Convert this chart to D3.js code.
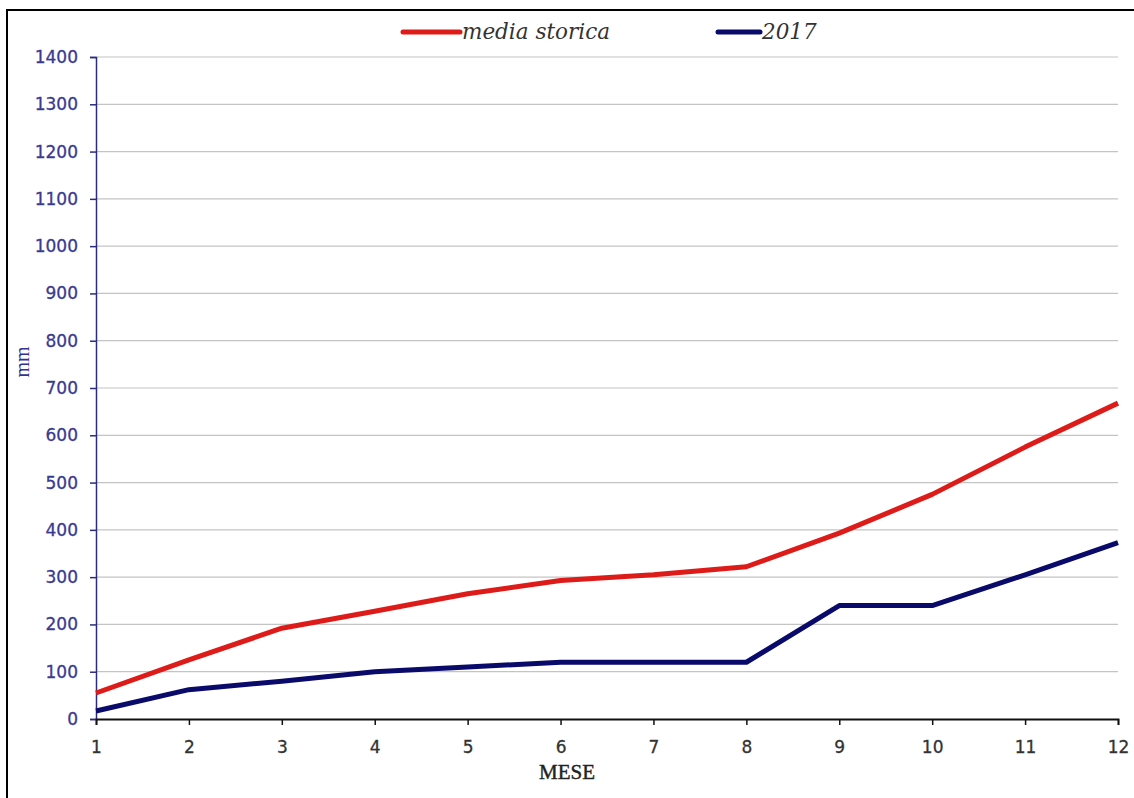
<!DOCTYPE html>
<html>
<head>
<meta charset="utf-8">
<script src="https://cdn.jsdelivr.net/npm/d3@7"></script>
<style>
  html, body { margin: 0; padding: 0; background: #ffffff; }
  svg { display: block; }
</style>
</head>
<body>
<svg id="chart" width="1134" height="798"></svg>
<script>
const months = [1, 2, 3, 4, 5, 6, 7, 8, 9, 10, 11, 12];
const mediaStorica = [55, 125, 192, 228, 265, 293, 305, 322, 393, 475, 575, 668];
const anno2017 = [17, 62, 80, 100, 110, 120, 120, 120, 240, 240, 305, 373];
const yTicks = [0, 100, 200, 300, 400, 500, 600, 700, 800, 900, 1000, 1100, 1200, 1300, 1400];
const seriesNames = ["media storica", "2017"];
const seriesColors = ["#dd1c1a", "#0a0a6b"];

const svg = d3.select("#chart");
const W = 1134, H = 798;
const m = { left: 96, right: 1118, top: 57, bottom: 719 };

// outer frame
svg.append("rect").attr("x", 7).attr("y", 10).attr("width", W).attr("height", H)
  .attr("fill", "none").attr("stroke", "#000").attr("stroke-width", 2);

const x = d3.scaleLinear().domain([1, 12]).range([m.left, m.right]);
const y = d3.scaleLinear().domain([0, 1400]).range([m.bottom, m.top]);

// gridlines
svg.append("g").selectAll("line").data(yTicks.filter(d => d > 0)).join("line")
  .attr("x1", m.left).attr("x2", m.right)
  .attr("y1", d => y(d)).attr("y2", d => y(d))
  .attr("stroke", "#c4c4c4").attr("stroke-width", 1.2);

// y axis
const yAxis = d3.axisLeft(y).tickValues(yTicks).tickSize(6).tickPadding(12).tickFormat(d3.format("d"));
const gy = svg.append("g").attr("transform", `translate(${m.left},0)`).call(yAxis);
gy.attr("font-size", null).attr("font-family", null);
gy.select(".domain").attr("stroke", "#2b2b80").attr("stroke-width", 1.5);
gy.selectAll(".tick line").attr("stroke", "#2b2b80").attr("stroke-width", 1.5);
gy.selectAll(".tick text").attr("fill", "#3a3a92")
  .attr("stroke", "#3a3a92").attr("stroke-width", 0.3)
  .style("font-family", "'DejaVu Sans', Verdana, sans-serif").style("font-size", "17px");

// x axis
const xAxis = d3.axisBottom(x).tickValues(months).tickSize(6).tickPadding(16).tickFormat(d3.format("d"));
const gx = svg.append("g").attr("transform", `translate(0,${m.bottom})`).call(xAxis);
gx.attr("font-size", null).attr("font-family", null);
gx.select(".domain").attr("stroke", "#111").attr("stroke-width", 1.8);
gx.selectAll(".tick line").attr("stroke", "#111").attr("stroke-width", 1.5);
gx.selectAll(".tick text").attr("fill", "#333")
  .attr("stroke", "#333").attr("stroke-width", 0.3)
  .style("font-family", "'DejaVu Sans', Verdana, sans-serif").style("font-size", "17px");

// axis titles
svg.append("text").attr("x", 567).attr("y", 779)
  .attr("text-anchor", "middle").attr("fill", "#222")
  .attr("stroke", "#222").attr("stroke-width", 0.4)
  .style("font-family", "'Liberation Serif', serif").style("font-size", "21px")
  .text("MESE");
svg.append("text").attr("transform", "translate(29,362) rotate(-90)")
  .attr("text-anchor", "middle").attr("fill", "#33338f")
  .style("font-family", "'Liberation Serif', serif").style("font-size", "20px")
  .text("mm");

// lines
const line = d3.line().x((d, i) => x(months[i])).y(d => y(d));
[mediaStorica, anno2017].forEach((s, k) => {
  svg.append("path").datum(s).attr("d", line)
    .attr("fill", "none").attr("stroke", seriesColors[k])
    .attr("stroke-width", 5).attr("stroke-linejoin", "round");
});

// legend
const legendX = [403, 718];
const legendLen = [57, 42];
seriesNames.forEach((name, k) => {
  const g = svg.append("g").attr("transform", `translate(${legendX[k]},32)`);
  g.append("line").attr("x1", 0).attr("x2", legendLen[k]).attr("y1", 0).attr("y2", 0)
    .attr("stroke", seriesColors[k]).attr("stroke-width", 5).attr("stroke-linecap", "round");
  g.append("text").attr("x", legendLen[k] + 2).attr("y", 7).attr("fill", "#333")
    .style("font-family", "'DejaVu Serif', serif").style("font-style", "italic")
    .style("font-size", "21.5px").text(name);
});
</script>
</body>
</html>
